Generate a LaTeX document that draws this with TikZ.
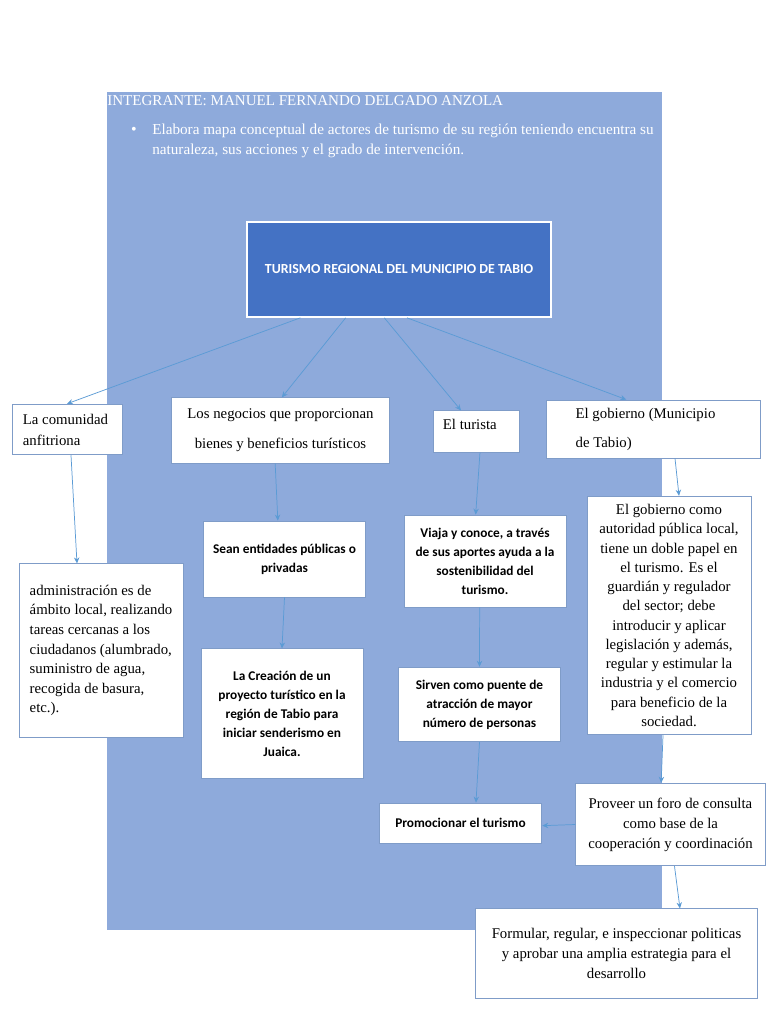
\documentclass[tikz,border=0pt]{standalone}
\usepackage{fontspec}
\setmainfont{Liberation Serif}
\newfontfamily\boxsans{Carlito}
\usetikzlibrary{arrows.meta,positioning}
\definecolor{pageblue}{HTML}{8EAADB}
\definecolor{mainblue}{HTML}{4472C4}
\definecolor{linkblue}{HTML}{5B9BD5}
\definecolor{edgeblue}{HTML}{7F9CC8}

\begin{document}
\begin{tikzpicture}[x=0.75pt, y=-0.75pt,
    card/.style={rectangle, draw=edgeblue, line width=0.6pt, fill=white, inner sep=0pt, font=\fontsize{11.1}{14.7}\selectfont},
    boldcard/.style={card, font=\boxsans\bfseries\fontsize{10}{14.2}\selectfont},
    arrow/.style={->, >={Stealth[length=4.5pt, width=4pt]}, draw=linkblue, line width=0.55pt}
]
\useasboundingbox[fill=white] (0,0) rectangle (768,1024);
\fill[pageblue] (107,92) rectangle (662,930);

\node[anchor=west, inner sep=0pt, text=white, font=\fontsize{11.3}{13}\selectfont] (member) at (107,101) {INTEGRANTE: MANUEL FERNANDO DELGADO ANZOLA};
\node[inner sep=0pt, text=white, font=\fontsize{12}{13}\selectfont] (dot) at (134,131) {\textbullet};
\node[anchor=north west, inner sep=0pt, align=left, text=white, font=\fontsize{11.4}{15}\selectfont] (task) at (152,124) {Elabora mapa conceptual de actores de turismo de su región teniendo encuentra su\\naturaleza, sus acciones y el grado de intervención.};

\node[rectangle, draw=white, line width=1.5pt, fill=mainblue, text=white, minimum width=228pt, minimum height=71pt, font=\boxsans\bfseries\fontsize{10.4}{12}\selectfont] (main) at (399,269.5) {TURISMO REGIONAL DEL MUNICIPIO DE TABIO};

\node[card, align=left, minimum width=82.5pt, minimum height=38pt, font=\fontsize{11.1}{15.75}\selectfont] (comunidad) at (67,429.5) {La comunidad\\anfitriona\hspace*{23pt}};
\node[card, align=center, minimum width=163pt, minimum height=49pt, font=\fontsize{11.1}{22.5}\selectfont] (negocios) at (280.5,430.5) {Los negocios que proporcionan\\bienes y beneficios turísticos};
\node[card, align=left, minimum width=64pt, minimum height=31pt, text depth=11pt] (turista) at (476.5,431.5) {El turista\hspace*{10pt}};
\node[card, align=left, minimum width=160.5pt, minimum height=43.5pt, font=\fontsize{11.1}{21.75}\selectfont] (gobierno) at (653,429) {El gobierno (Municipio\\de Tabio)\hspace*{74pt}};

\node[card, align=left, minimum width=123pt, minimum height=130pt] (admin) at (101,650.5) { administración es de\\ámbito local, realizando\\tareas cercanas a los\\ciudadanos (alumbrado,\\suministro de agua,\\recogida de basura,\\etc.).};
\node[boldcard, align=center, minimum width=122pt, minimum height=57pt] (sean) at (284.5,559) {Sean entidades públicas o\\privadas};
\node[boldcard, align=center, minimum width=121.5pt, minimum height=97pt] (creacion) at (282,713.5) {La Creación de un\\proyecto turístico en la\\región de Tabio para\\iniciar senderismo en\\Juaica.};
\node[boldcard, align=center, minimum width=121.5pt, minimum height=69pt] (viaja) at (485,561) {Viaja y conoce, a través\\de sus aportes ayuda a la\\sostenibilidad del\\turismo.};
\node[boldcard, align=center, minimum width=122pt, minimum height=56pt] (sirven) at (479.5,704.5) {Sirven como puente de\\atracción de mayor\\número de personas};
\node[boldcard, align=center, minimum width=122pt, minimum height=30pt] (promo) at (460.5,823) {Promocionar el turismo};
\node[card, align=center, minimum width=123pt, minimum height=179pt, font=\fontsize{11.1}{14.45}\selectfont] (gobcomo) at (669,615.5) {El gobierno como\\autoridad pública local,\\tiene un doble papel en\\el turismo. Es el\\guardián y regulador\\del sector; debe\\introducir y aplicar\\legislación y además,\\regular y estimular la\\industria y el comercio\\para beneficio de la\\sociedad.};
\node[card, align=center, minimum width=142pt, minimum height=62pt, font=\fontsize{11.1}{15}\selectfont] (proveer) at (670.5,824.5) {Proveer un foro de consulta\\como base de la\\cooperación y coordinación};
\node[card, align=center, minimum width=211pt, minimum height=67pt] (formular) at (616.5,953.5) {Formular, regular, e inspeccionar politicas\\y aprobar una amplia estrategia para el\\desarrollo};

\draw[arrow] ([xshift=-74pt]main.south) -- (comunidad.north);
\draw[arrow] ([xshift=-40pt]main.south) -- ([xshift=1pt]negocios.north);
\draw[arrow] ([xshift=-11pt]main.south) -- ([xshift=-11.6pt]turista.north);
\draw[arrow] ([xshift=6pt]main.south) -- ([xshift=-20pt]gobierno.north);
\draw[arrow] ([xshift=3pt]comunidad.south) -- ([xshift=-18pt]admin.north);
\draw[arrow] ([xshift=-4pt]negocios.south) -- ([xshift=-5pt]sean.north);
\draw[arrow] (sean.south) -- (creacion.north);
\draw[arrow] ([xshift=2.6pt]turista.south) -- ([xshift=-7pt]viaja.north);
\draw[arrow] ([xshift=-4pt]viaja.south) -- (sirven.north);
\draw[arrow] (sirven.south) -- ([xshift=11.6pt]promo.north);
\draw[arrow] ([xshift=16.5pt]gobierno.south) -- ([xshift=7.5pt]gobcomo.north);
\draw[arrow] ([xshift=-4.5pt]gobcomo.south) -- ([xshift=-7pt]proveer.north);
\draw[arrow] (proveer.west) -- ([yshift=-2pt]promo.east);
\draw[arrow] ([xshift=3pt]proveer.south) -- ([xshift=47.6pt]formular.north);
\end{tikzpicture}
\end{document}
